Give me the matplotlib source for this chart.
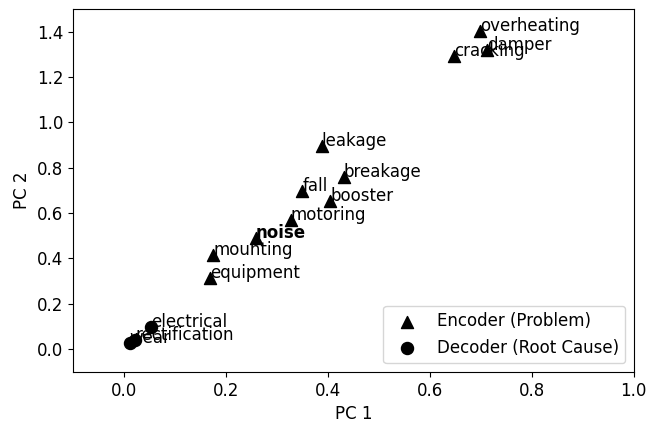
import matplotlib
matplotlib.use("Agg")
import matplotlib.pyplot as plt

# PCA coordinates of encoder (problem) terms
enc_words = ["overheating", "damper", "cracking", "leakage", "breakage", "fall",
             "booster", "motoring", "noise", "mounting", "equipment"]
enc_pc1 = [0.699, 0.712, 0.648, 0.388, 0.431, 0.350, 0.405, 0.327, 0.259, 0.175, 0.169]
enc_pc2 = [1.402, 1.318, 1.292, 0.896, 0.760, 0.699, 0.651, 0.571, 0.492, 0.414, 0.312]

# PCA coordinates of decoder (root cause) terms
dec_words = ["electrical", "rectification", "wear"]
dec_pc1 = [0.053, 0.022, 0.011]
dec_pc2 = [0.096, 0.042, 0.028]

bold_words = ["noise"]

fs = 12

fig = plt.figure(figsize=(6.46, 4.23), dpi=100)
ax = fig.add_axes([0.113, 0.121, 0.868, 0.858])

ax.scatter(enc_pc1, enc_pc2, marker="^", s=75, color="black", label="Encoder (Problem)")
ax.scatter(dec_pc1, dec_pc2, marker="o", s=75, color="black", label="Decoder (Root Cause)")

for w, x, y in zip(enc_words, enc_pc1, enc_pc2):
    ax.text(x, y, w, fontsize=fs, fontweight="bold" if w in bold_words else "normal")
for w, x, y in zip(dec_words, dec_pc1, dec_pc2):
    ax.text(x, y, w, fontsize=fs)

ax.set_xlim(-0.1, 1.0)
ax.set_ylim(-0.1, 1.5)
ax.set_xlabel("PC 1", fontsize=fs)
ax.set_ylabel("PC 2", fontsize=fs)
ax.tick_params(labelsize=fs)
ax.legend(loc="lower right", fontsize=fs)

fig.savefig("out.png", dpi=100)
